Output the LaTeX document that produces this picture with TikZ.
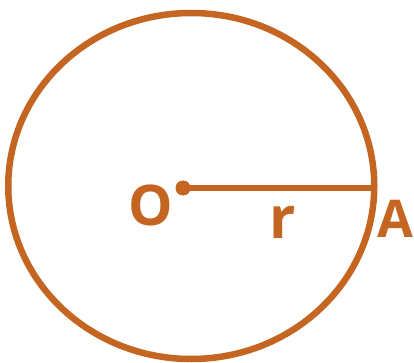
\documentclass[tikz,border=0pt]{standalone}
\usepackage{fontspec}
\setmainfont{Open Sans}
\definecolor{rust}{RGB}{196,101,34}
\begin{document}
\begin{tikzpicture}[x=1pt,y=-1pt,
  lbl/.style={text=rust,font=\bfseries\fontsize{52}{52}\selectfont,inner sep=0pt,anchor=base}]
\useasboundingbox (0,0) rectangle (414,363);
\draw[rust,line width=6.5pt] (191.25,186) ellipse [x radius=183, y radius=173];
\coordinate (O) at (183,188);
\coordinate (A) at (374,188);
\fill[rust] (O) circle (7.5);
\draw[rust,line width=6pt] (O) -- (A);
\node[lbl,font=\bfseries\fontsize{56}{56}\selectfont] (lo) at (151,225) {O};
\node[lbl,font=\bfseries\fontsize{58}{58}\selectfont] (lr) at (283,238) {r};
\node[lbl] (la) at (395,237) {A};
\end{tikzpicture}
\end{document}
